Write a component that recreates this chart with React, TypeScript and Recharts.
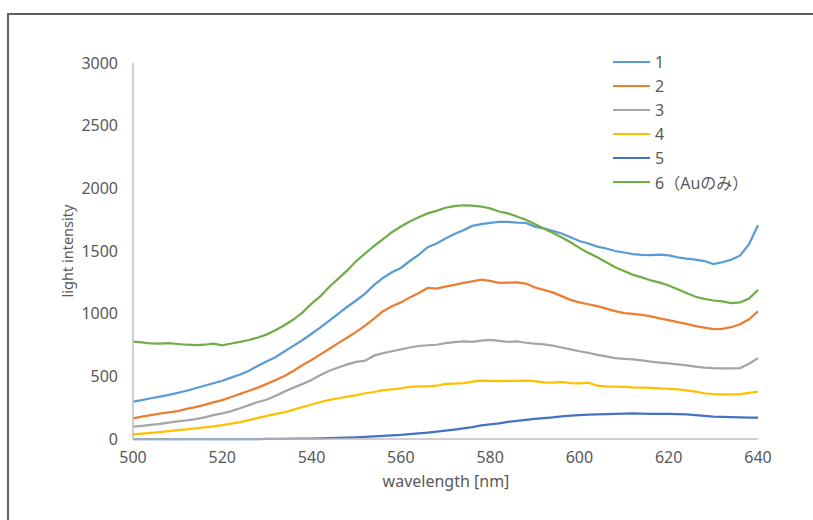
import { Label, Line, LineChart, XAxis, YAxis } from "recharts";

const wavelengths = [
  500, 502, 504, 506, 508, 510, 512, 514, 516, 518, 520, 522, 524, 526, 528, 530, 532, 534, 536, 538,
  540, 542, 544, 546, 548, 550, 552, 554, 556, 558, 560, 562, 564, 566, 568, 570, 572, 574, 576, 578,
  580, 582, 584, 586, 588, 590, 592, 594, 596, 598, 600, 602, 604, 606, 608, 610, 612, 614, 616, 618,
  620, 622, 624, 626, 628, 630, 632, 634, 636, 638, 640,
];

const s1 = [
  298, 310, 325, 338, 352, 368, 385, 405, 425, 445, 465, 490, 515, 545, 585, 620, 655, 700, 745, 790,
  840, 890, 945, 1000, 1055, 1105, 1160, 1230, 1285, 1330, 1365, 1420, 1470, 1530, 1560, 1600, 1635, 1665, 1700, 1715,
  1725, 1732, 1732, 1726, 1724, 1695, 1680, 1660, 1640, 1610, 1580, 1560, 1535, 1520, 1500, 1488, 1476, 1470, 1468, 1472,
  1465, 1450, 1440, 1432, 1420, 1395, 1410, 1430, 1465, 1555, 1705,
];

const s2 = [
  165, 178, 190, 202, 212, 222, 240, 255, 272, 292, 310, 335, 360, 385, 410, 440, 470, 505, 545, 590,
  630, 675, 720, 765, 810, 855, 905, 960, 1020, 1060, 1090, 1130, 1165, 1205, 1200, 1215, 1230, 1245, 1258, 1272,
  1262, 1245, 1248, 1250, 1240, 1210, 1190, 1170, 1140, 1110, 1090, 1075, 1060, 1040, 1020, 1005, 998, 990, 978, 962,
  948, 932, 918, 900, 888, 876, 878, 892, 915, 955, 1018,
];

const s3 = [
  98, 105, 112, 120, 130, 140, 148, 158, 172, 190, 205, 222, 245, 270, 295, 315, 345, 380, 410, 440,
  470, 510, 545, 570, 595, 615, 625, 665, 685, 700, 715, 730, 742, 748, 752, 765, 772, 778, 775, 785,
  790, 782, 775, 778, 768, 760, 755, 745, 730, 715, 700, 688, 672, 660, 645, 640, 636, 628, 617, 610,
  604, 596, 588, 578, 570, 565, 564, 564, 566, 600, 645,
];

const s4 = [
  37, 42, 48, 55, 62, 70, 76, 84, 92, 100, 110, 122, 135, 150, 168, 185, 200, 215, 235, 255,
  275, 295, 312, 325, 338, 350, 365, 375, 390, 395, 405, 415, 420, 420, 425, 440, 442, 445, 458, 465,
  463, 462, 463, 464, 466, 462, 452, 450, 455, 446, 444, 450, 425, 420, 418, 416, 412, 410, 407, 404,
  400, 395, 388, 378, 365, 358, 356, 356, 358, 368, 378,
];

const s5 = [
  0, 0, 0, 0, 0, 0, 0, 0, 0, 0, 0, 0, 0, 0, 0, 1, 1, 1, 2, 2,
  3, 4, 6, 8, 10, 13, 16, 20, 24, 28, 32, 38, 44, 50, 58, 66, 75, 85, 95, 108,
  116, 124, 136, 144, 152, 160, 166, 172, 180, 186, 190, 194, 196, 198, 200, 202, 204, 202, 200, 200,
  200, 198, 196, 190, 184, 178, 176, 174, 172, 170, 170,
];

const s6 = [
  776, 770, 762, 760, 765, 758, 752, 750, 752, 760, 748, 762, 775, 790, 810, 835, 870, 910, 955, 1010,
  1080, 1140, 1215, 1280, 1345, 1420, 1480, 1540, 1595, 1650, 1695, 1735, 1770, 1800, 1820, 1845, 1858, 1865, 1862, 1855,
  1840, 1815, 1800, 1775, 1750, 1715, 1680, 1645, 1610, 1570, 1525, 1485, 1450, 1410, 1370, 1340, 1310, 1290, 1265, 1248,
  1225, 1195, 1165, 1135, 1118, 1105, 1098, 1085, 1090, 1120, 1190,
];

const seriesNames = ["1", "2", "3", "4", "5", "6（Auのみ）"];
const seriesColors = ["#5B9BD5", "#ED7D31", "#A5A5A5", "#FFC000", "#4472C4", "#70AD47"];
const xTicks = [500, 520, 540, 560, 580, 600, 620, 640];
const yTicks = [0, 500, 1000, 1500, 2000, 2500, 3000];

const allSeries = [s1, s2, s3, s4, s5, s6];
const data = wavelengths.map((w, i) => {
  const row: Record<string, number> = { w };
  allSeries.forEach((s, k) => {
    row["s" + (k + 1)] = s[i];
  });
  return row;
});

const FONT = '"Noto Sans", "Noto Sans CJK JP", sans-serif';
const TEXT = "#595959";

// legend drawn outside the chart so it doesn't eat into the plot margins
function LegendBox() {
  return (
    <div style={{ position: "absolute", left: 613, top: 50, fontFamily: FONT, fontSize: 16, color: TEXT }}>
      {seriesNames.map((name, i) => (
        <div key={name} style={{ display: "flex", alignItems: "center", height: 24 }}>
          <div style={{ width: 37, height: 2.5, background: seriesColors[i], marginRight: 5 }} />
          <span>{name}</span>
        </div>
      ))}
    </div>
  );
}

export default function App() {
  return (
    <div
      style={{
        position: "fixed",
        left: 0,
        top: 0,
        width: 813,
        height: 520,
        overflow: "hidden",
        background: "#fff",
      }}
    >
      <div
        style={{
          position: "absolute",
          left: 7,
          top: 13,
          width: 840,
          height: 560,
          border: "2px solid #5f5f5f",
        }}
      />
      <div style={{ position: "absolute", left: 0, top: 0 }}>
        <LineChart
          width={813}
          height={520}
          data={data}
          margin={{ top: 63, right: 55, bottom: 41, left: 73 }}
        >
          <XAxis
            dataKey="w"
            type="number"
            domain={[500, 640]}
            ticks={xTicks}
            tickLine={false}
            axisLine={{ stroke: "#BFBFBF", strokeWidth: 1.5 }}
            tick={{ fill: TEXT, fontSize: 16, fontFamily: FONT }}
            tickMargin={7}
            height={40}
          >
            <Label
              content={() => (
                <text x={446} y={481} textAnchor="middle" dominantBaseline="central" fill={TEXT} fontSize={16} fontFamily={FONT}>
                  wavelength [nm]
                </text>
              )}
            />
          </XAxis>
          <YAxis
            type="number"
            domain={[0, 3000]}
            ticks={yTicks}
            tickLine={false}
            axisLine={{ stroke: "#BFBFBF", strokeWidth: 1.5 }}
            tick={{ fill: TEXT, fontSize: 16, fontFamily: FONT }}
            tickMargin={9}
            width={60}
          >
            <Label
              content={() => (
                <text
                  x={67}
                  y={251}
                  transform="rotate(-90 67 251)"
                  textAnchor="middle"
                  dominantBaseline="central"
                  fill={TEXT}
                  fontSize={14.5}
                  fontFamily={FONT}
                >
                  light intensity
                </text>
              )}
            />
          </YAxis>
          {seriesNames.map((name, i) => (
            <Line
              key={name}
              type="linear"
              dataKey={"s" + (i + 1)}
              name={name}
              stroke={seriesColors[i]}
              strokeWidth={2.25}
              dot={false}
              isAnimationActive={false}
            />
          ))}
        </LineChart>
      </div>
      <LegendBox />
    </div>
  );
}
